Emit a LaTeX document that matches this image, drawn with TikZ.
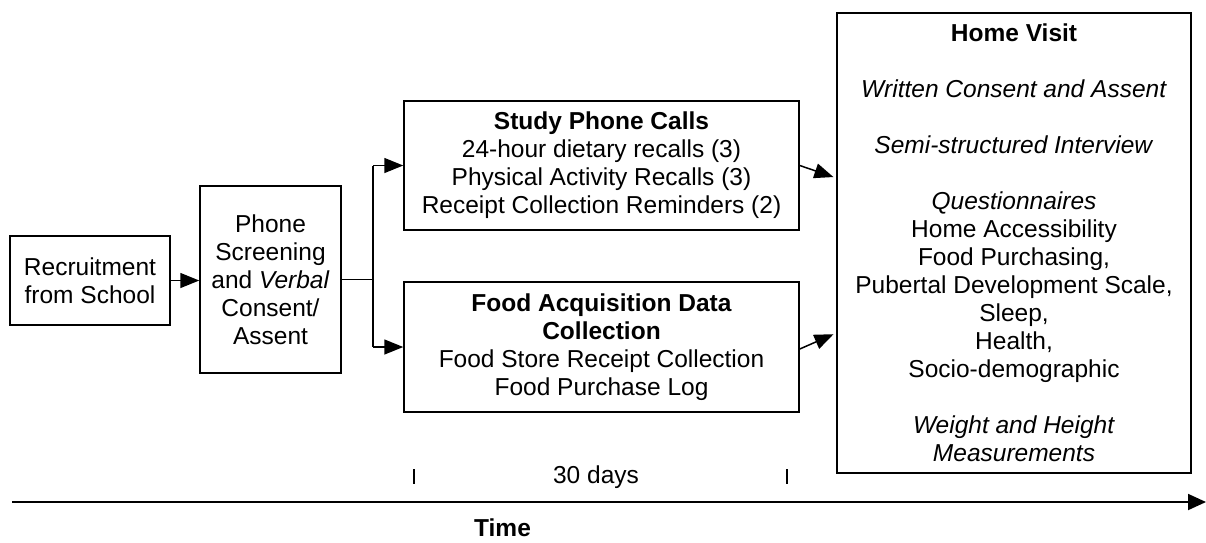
\documentclass[tikz,border=0pt]{standalone}
\usepackage{fontspec}
\setmainfont{Liberation Sans}
\usetikzlibrary{arrows.meta,calc}

\tikzset{
  box/.style={draw, line width=1.5pt, rectangle, align=center, inner sep=0pt,
              font=\fontsize{24.5}{28}\selectfont},
  flow/.style={line width=1.5pt, -{Triangle[length=19pt,width=15pt]}},
  link/.style={line width=1.5pt},
  tick/.style={line width=1.6pt},
  lbl/.style={font=\fontsize{24.5}{28}\selectfont, inner sep=0pt}
}

\begin{document}
\begin{tikzpicture}[x=1pt,y=-1pt]
\useasboundingbox (0,0) rectangle (1206,542);

% process boxes
\node[box, minimum width=160pt, minimum height=89pt] (rec) at (90,280.5)
  {Recruitment\\from School};
\node[box, minimum width=141pt, minimum height=187pt] (phone) at (270.5,279.5)
  {Phone\\Screening\\and \textit{Verbal}\\Consent/\\Assent};
\node[box, minimum width=395pt, minimum height=129pt] (study) at (601.5,165.5)
  {\textbf{Study Phone Calls}\\24-hour dietary recalls (3)\\Physical Activity Recalls (3)\\Receipt Collection Reminders (2)};
\node[box, minimum width=395pt, minimum height=130pt] (food) at (601.5,347)
  {\textbf{Food Acquisition Data}\\\textbf{Collection}\\Food Store Receipt Collection\\Food Purchase Log};
\node[box, minimum width=354pt, minimum height=460pt] (home) at (1014,243)
  {\textbf{Home Visit}\\[28pt]\textit{Written Consent and Assent}\\[28pt]\textit{Semi-structured Interview}\\[28pt]\textit{Questionnaires}\\Home Accessibility\\Food Purchasing,\\Pubertal Development Scale,\\Sleep,\\Health,\\Socio-demographic\\[28pt]\textit{Weight and Height}\\\textit{Measurements}};

% branching point after screening
\coordinate (split) at (373,279.5);
\coordinate (hin1) at ($(home.west)+(0,-65)$);
\coordinate (hin2) at ($(home.west)+(0,90)$);

\draw[flow] (rec.east) -- (rec.east -| phone.west);
\draw[link] (phone.east) -- (split);
\draw[link] (split |- study.west) -- (split |- food.west);
\draw[flow] (split |- study.west) -- (study.west);
\draw[flow] (split |- food.west) -- (food.west);
\draw[flow, shorten >=3pt] (study.east) -- (hin1);
\draw[flow, shorten >=3pt] ([yshift=-2pt]food.east) -- (hin2);

% time axis
\coordinate (t0) at (12,502);
\coordinate (t1) at (1206,502);
\draw[line width=1.8pt, -{Triangle[length=18pt,width=16pt]}] (t0) -- (t1);
\coordinate (ka) at (414,469);
\coordinate (kb) at (787,469);
\draw[tick] (ka) -- ++(0,15);
\draw[tick] (kb) -- ++(0,15);
\node[lbl] (days) at (596,477) {30 days};
\node[lbl, font=\fontsize{24.5}{28}\selectfont\bfseries] (time) at (502.5,528) {Time};
\end{tikzpicture}
\end{document}
